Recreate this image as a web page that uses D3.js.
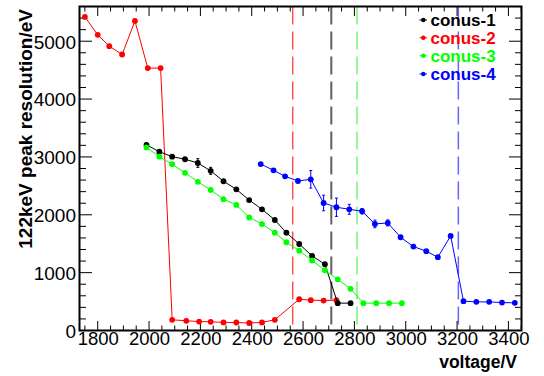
<!DOCTYPE html>
<html><head><meta charset="utf-8">
<script src="https://cdn.jsdelivr.net/npm/d3@7"></script>
<style>body{margin:0;background:#fff}svg{display:block}text{font-family:"Liberation Sans",Arial,sans-serif}</style>
</head><body>
<svg id="c" width="544" height="376"></svg>
<script>
// ---- data ----
const seriesNames = ["conus-1","conus-2","conus-3","conus-4"];
const seriesColors = ["#000000","#ff0000","#00ff00","#0000ff"];
const conus1V = [1990,2040,2090,2140,2190,2240,2290,2340,2390,2440,2490,2535,2585,2635,2685,2735,2785];
const conus1R = [3210,3090,3005,2960,2895,2760,2580,2440,2255,2095,1910,1690,1495,1290,1145,473,473];
const conus1E = [20,20,20,25,75,60,25,25,20,20,20,20,20,20,20,10,10];
const conus2V = [1750,1800,1845,1895,1945,1995,2045,2090,2145,2195,2240,2290,2340,2390,2440,2490,2585,2630,2680,2730];
const conus2R = [5420,5110,4915,4770,5350,4535,4535,185,168,155,150,140,138,130,140,185,540,525,518,525];
const conus2E = [10,10,10,10,10,10,10,5,5,5,5,5,5,5,5,5,5,5,5,5];
const conus3V = [1990,2040,2090,2140,2190,2240,2290,2340,2390,2440,2490,2535,2585,2635,2685,2735,2785,2835,2885,2935,2985];
const conus3R = [3165,3005,2875,2725,2570,2430,2270,2170,1955,1840,1690,1525,1380,1210,1040,885,720,473,473,473,473];
const conus3E = [10,10,10,10,10,10,10,10,10,10,10,10,10,10,10,10,10,5,5,5,5];
const conus4V = [2435,2485,2530,2580,2630,2680,2730,2780,2830,2880,2930,2980,3030,3080,3125,3175,3225,3275,3325,3375,3425];
const conus4R = [2877,2768,2665,2584,2613,2204,2130,2095,2061,1842,1859,1612,1450,1371,1267,1634,507,495,495,483,478];
const conus4E = [20,20,20,25,152,135,158,86,46,66,52,20,20,20,20,20,10,10,10,10,10];
const refLinesV = [2560,2710,2810,3205];
const refLineColors = ["#ff0000","#606060","#33ee33","#6666ff"];
const refLineWidths = [1,2,1,1.5];
const xTicks = [1800,2000,2200,2400,2600,2800,3000,3200,3400];
const yTicks = [0,1000,2000,3000,4000,5000];
const xTitle = "voltage/V";
const yTitle = "122keV peak resolution/eV";

const svg = d3.select("#c");
const L=79.5,R=521.5,T=6.5,B=330.5;
const x = d3.scaleLinear().domain([1729,3451]).range([L,R]);
const y = d3.scaleLinear().domain([0,5600]).range([B,T]);

// reference dashed lines
refLinesV.forEach((v,i)=>{
  svg.append("line").attr("x1",x(v)).attr("x2",x(v)).attr("y1",T).attr("y2",B)
    .attr("stroke",refLineColors[i]).attr("stroke-width",refLineWidths[i])
    .attr("stroke-dasharray","18,7");
});

// ticks
const xMinor = d3.range(1750,3451,50);
const yMinor = d3.range(0,5601,200);
function tickLines(vals, len, isX, pos, dir){
  vals.forEach(v=>{
    if(isX){ svg.append("line").attr("x1",x(v)).attr("x2",x(v)).attr("y1",pos).attr("y2",pos+dir*len).attr("stroke","#000").attr("stroke-width",1);}
    else { svg.append("line").attr("y1",y(v)).attr("y2",y(v)).attr("x1",pos).attr("x2",pos+dir*len).attr("stroke","#000").attr("stroke-width",1);}
  });
}
const xMin = xMinor.filter(v=>v%200!==0), yMin = yMinor.filter(v=>v%1000!==0);
tickLines(xTicks,9.5,true,B,-1); tickLines(xMin,5,true,B,-1);
tickLines(xTicks,9.5,true,T,1); tickLines(xMin,5,true,T,1);
tickLines(yTicks,12.5,false,L,1); tickLines(yMin,6.5,false,L,1);
tickLines(yTicks,12.5,false,R,-1); tickLines(yMin,6.5,false,R,-1);

const gxl = svg.append("g").attr("transform",`translate(0,${B})`)
  .call(d3.axisBottom(x).tickValues(xTicks).tickSize(0).tickPadding(0).tickFormat(d3.format("d")));
gxl.select(".domain").remove();
gxl.selectAll("text").attr("dy",null).attr("y",14.5).style("font-size","18.5px").style("font-family","Liberation Sans, Arial").attr("fill","#000");

const gyl = svg.append("g").attr("transform",`translate(${L},0)`)
  .call(d3.axisLeft(y).tickValues(yTicks).tickSize(0).tickPadding(0).tickFormat(d3.format("d")));
gyl.select(".domain").remove();
gyl.selectAll("text").attr("x",-3.5).attr("dy","0.36em").style("font-size","19px").style("font-family","Liberation Sans, Arial").attr("fill","#000");

// frame
svg.append("rect").attr("x",L).attr("y",T).attr("width",R-L).attr("height",B-T)
  .attr("fill","none").attr("stroke","#000").attr("stroke-width",2);

// titles
svg.append("text").attr("x",517).attr("y",368).attr("text-anchor","end")
  .style("font-size","17.5px").style("font-weight","bold").text(xTitle);
svg.append("text").attr("transform","translate(32,9) rotate(-90)").attr("text-anchor","end")
  .style("font-size","19px").style("font-weight","bold").text(yTitle);

// series
const series = [
  {V:conus1V,R:conus1R,E:conus1E},
  {V:conus2V,R:conus2R,E:conus2E},
  {V:conus3V,R:conus3R,E:conus3E},
  {V:conus4V,R:conus4R,E:conus4E}];
const line = d3.line().x(d=>x(d.v)).y(d=>y(d.r));
const order=[1,0,2,3];
order.forEach(si=>{
  const s=series[si], c=seriesColors[si];
  const pts = s.V.map((v,i)=>({v:v,r:s.R[i],e:s.E[i]}));
  const g = svg.append("g");
  g.append("path").datum(pts).attr("d",line).attr("fill","none").attr("stroke",c).attr("stroke-width",1);
  pts.forEach(p=>{
    if(y(p.r-p.e)-y(p.r+p.e) > 5){
      g.append("line").attr("x1",x(p.v)).attr("x2",x(p.v)).attr("y1",y(p.r+p.e)).attr("y2",y(p.r-p.e)).attr("stroke",c).attr("stroke-width",1);
      [p.r+p.e,p.r-p.e].forEach(q=>g.append("line").attr("x1",x(p.v)-1.5).attr("x2",x(p.v)+1.5).attr("y1",y(q)).attr("y2",y(q)).attr("stroke",c).attr("stroke-width",1));
    }
  });
  g.selectAll("circle").data(pts).join("circle").attr("cx",d=>x(d.v)).attr("cy",d=>y(d.r)).attr("r",2.9).attr("fill",c);
});

// legend
const legY=[20,37.8,55.8,74];
seriesNames.forEach((n,i)=>{
  svg.append("line").attr("x1",419.5).attr("x2",427).attr("y1",legY[i]).attr("y2",legY[i]).attr("stroke",seriesColors[i]).attr("stroke-width",1);
  svg.append("circle").attr("cx",423.3).attr("cy",legY[i]).attr("r",2.2).attr("fill",seriesColors[i]);
  svg.append("text").attr("x",430.5).attr("y",legY[i]+6).style("font-size","17px").style("font-weight","bold")
    .attr("fill",seriesColors[i]).text(n);
});
</script>
</body></html>
